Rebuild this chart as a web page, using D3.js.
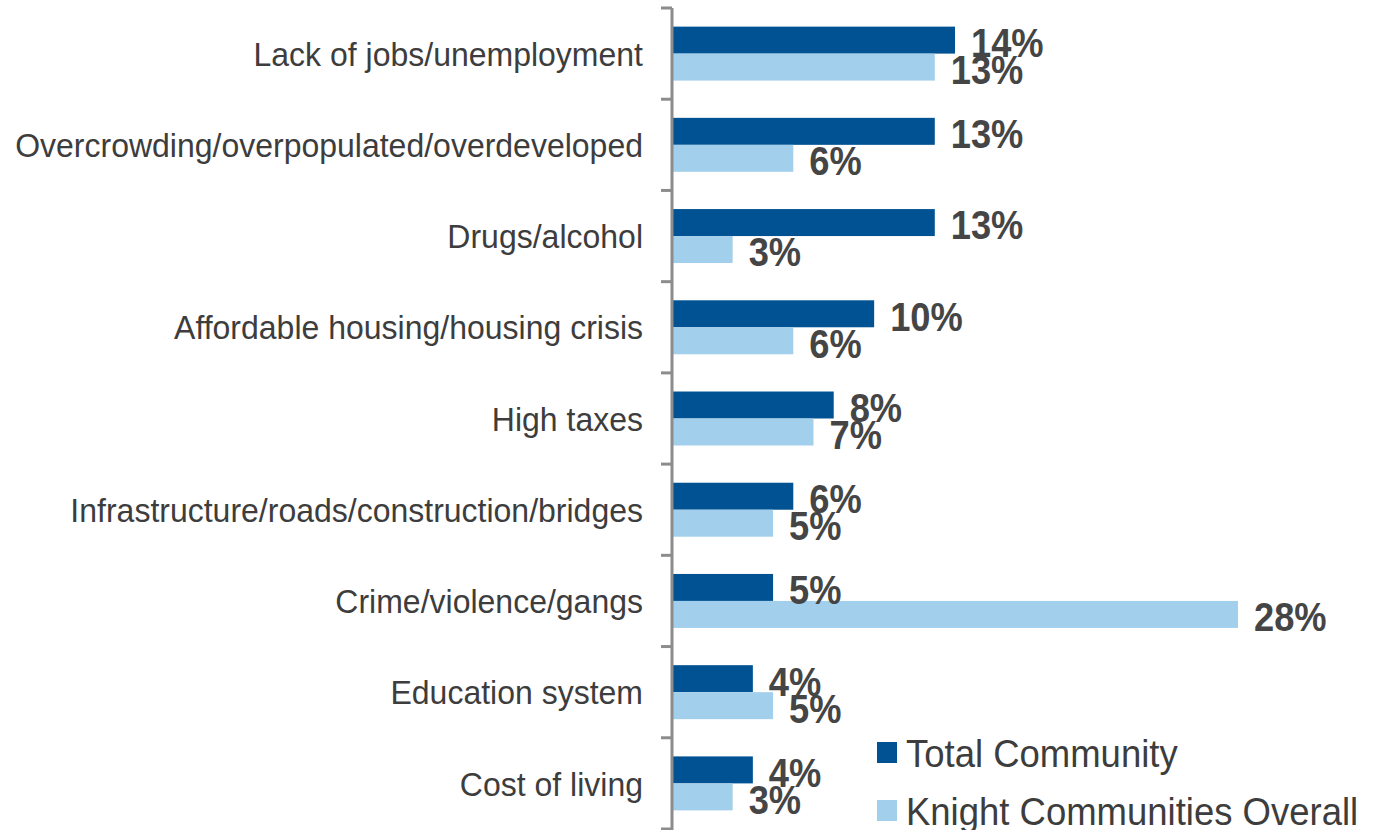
<!DOCTYPE html>
<html>
<head>
<meta charset="utf-8">
<script src="https://cdn.jsdelivr.net/npm/d3@7/dist/d3.min.js"></script>
<style>
  html, body { margin: 0; padding: 0; background: #ffffff; }
  svg { display: block; }
  text { font-family: "Liberation Sans", Arial, Helvetica, sans-serif; }
</style>
</head>
<body>
<svg id="chart" width="1379" height="830"></svg>
<script>
const categories = [
  "Lack of jobs/unemployment",
  "Overcrowding/overpopulated/overdeveloped",
  "Drugs/alcohol",
  "Affordable housing/housing crisis",
  "High taxes",
  "Infrastructure/roads/construction/bridges",
  "Crime/violence/gangs",
  "Education system",
  "Cost of living"
];
const seriesNames = ["Total Community", "Knight Communities Overall"];
const totalCommunity = [14, 13, 13, 10, 8, 6, 5, 4, 4];
const knightOverall = [13, 6, 3, 6, 7, 5, 28, 5, 3];
const seriesColors = ["#005293", "#A2CFEC"];

const svg = d3.select("#chart");
const axisX = 672;
const plotTop = 8, plotBottom = 829;

const y0 = d3.scaleBand().domain(categories).range([plotTop, plotBottom]).padding(0);
const y1 = d3.scaleBand().domain(seriesNames).range([0, y0.bandwidth()])
  .paddingInner(0).paddingOuter(0.69);
const x = d3.scaleLinear().domain([0, 28]).range([axisX, 1238]);

const seriesValues = [totalCommunity, knightOverall];
const rows = [];
categories.forEach((c, i) => {
  seriesNames.forEach((s, j) => {
    rows.push({ cat: c, series: s, value: seriesValues[j][i], color: seriesColors[j] });
  });
});

// bars
svg.append("g").selectAll("rect").data(rows).join("rect")
  .attr("x", x(0))
  .attr("y", d => y0(d.cat) + y1(d.series))
  .attr("width", d => x(d.value) - x(0))
  .attr("height", y1.bandwidth())
  .attr("fill", d => d.color);

// axis
const axis = d3.axisLeft(y0).tickSize(0).tickFormat("");
const gAxis = svg.append("g").attr("transform", `translate(${axisX},0)`).call(axis);
gAxis.select(".domain").attr("stroke", "#8c8c8c").attr("stroke-width", 3)
  .attr("d", `M0,${plotTop}V${plotBottom + 5}`);
const boundaries = categories.map(c => y0(c)).concat([plotBottom]);
gAxis.selectAll(".btick").data(boundaries).join("line")
  .attr("class", "btick")
  .attr("x1", -11).attr("x2", 0)
  .attr("y1", d => d).attr("y2", d => d)
  .attr("stroke", "#8c8c8c").attr("stroke-width", 3);

// category labels
svg.append("g").selectAll("text").data(categories).join("text")
  .attr("transform", d => `translate(${axisX - 29},${y0(d) + y0.bandwidth() / 2}) scale(1,1.06)`)
  .attr("dy", "0.36em")
  .attr("text-anchor", "end")
  .attr("fill", "#3d3d3d")
  .attr("font-size", 32)
  .text(d => d);

// value labels
svg.append("g").selectAll("text").data(rows).join("text")
  .attr("transform", d => `translate(${x(d.value) + 16},${y0(d.cat) + y1(d.series) + y1.bandwidth() / 2 + 2}) scale(0.98,1.12)`)
  .attr("dy", "0.36em")
  .attr("fill", "#454545")
  .attr("font-size", 37)
  .attr("font-weight", "bold")
  .text(d => d.value + "%");

// legend
const legend = svg.append("g").attr("transform", "translate(877,742)");
seriesNames.forEach((s, j) => {
  const g = legend.append("g").attr("transform", `translate(0,${j * 58})`);
  g.append("rect").attr("width", 20).attr("height", 21).attr("fill", seriesColors[j]);
  g.append("text")
    .attr("transform", "translate(29,10.5) scale(1,1.08)")
    .attr("dy", "0.36em")
    .attr("fill", "#3d3d3d").attr("font-size", 36.5).text(s);
});
</script>
</body>
</html>
